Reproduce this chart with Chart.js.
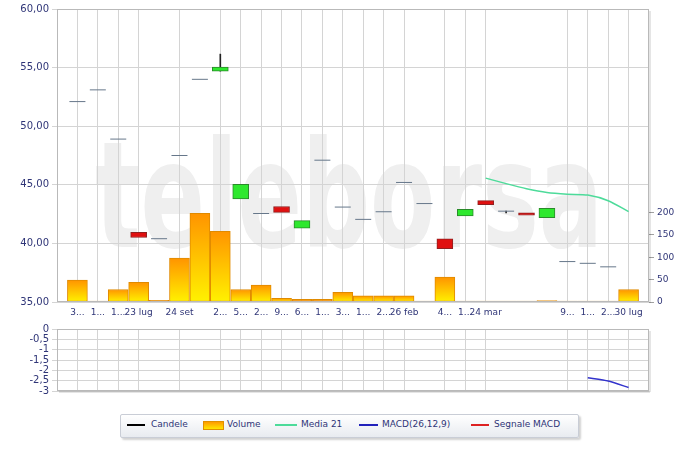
<!DOCTYPE html>
<html><head><meta charset="utf-8">
<script src="https://cdn.jsdelivr.net/npm/chart.js@4/dist/chart.umd.min.js"></script>
<style>
html,body{margin:0;padding:0;background:#fff;}
#wrap{position:relative;width:700px;height:451px;overflow:hidden;font-family:"DejaVu Sans",Verdana,sans-serif;}
#wm{position:absolute;left:0;top:0;}
#b1{position:absolute;left:0;top:0;width:700px;height:325px;}
#b2{position:absolute;left:0;top:320px;width:700px;height:80px;}
#legend{position:absolute;left:120px;top:414px;width:457px;height:22px;border:1px solid #c9cdd6;background:linear-gradient(#ffffff,#e8ebf0);box-shadow:2px 2px 2px rgba(0,0,0,0.18);border-radius:2px;font-size:9px;color:#2f3577;}
.li{position:absolute;top:4px;white-space:nowrap;line-height:11px}
.sw{position:absolute;height:2px;top:9px}
</style></head>
<body>
<div id="wrap">
  <svg id="wm" width="700" height="451"><g transform="translate(95,247) scale(1,1.6)"><text x="0" y="0" font-family="DejaVu Sans" font-weight="bold" font-size="92" fill="#efefef" textLength="508" lengthAdjust="spacingAndGlyphs">teleborsa</text></g></svg>
  <div id="b1"><canvas id="c1"></canvas></div>
  <div id="b2"><canvas id="c2"></canvas></div>
  <div id="legend">
    <div class="sw" style="left:6px;width:18px;background:#000"></div><div class="li" style="left:30px">Candele</div>
    <div style="position:absolute;left:82px;top:6px;width:19px;height:7px;border:1px solid #e09000;background:linear-gradient(#ff9a00,#ffe600)"></div><div class="li" style="left:106px">Volume</div>
    <div class="sw" style="left:154px;width:22px;background:#4ddb9a"></div><div class="li" style="left:180px">Media 21</div>
    <div class="sw" style="left:238px;width:19px;background:#2222bb"></div><div class="li" style="left:261px">MACD(26,12,9)</div>
    <div class="sw" style="left:350px;width:18px;background:#dd2222"></div><div class="li" style="left:373px">Segnale MACD</div>
  </div>
</div>
<script>
const xLabels = ['3...','1...','1...','23 lug','','24 set','','2...','5...','2...','9...','6...','1...','3...','1...','2...','26 feb','','4...','1...','24 mar','','','','9...','1...','2...','30 lug'];
const openP  = [52.1,53.1,48.9,40.95,40.4,47.5,54.0,54.7,43.8,42.55,43.15,41.3,47.1,43.1,42.05,42.7,45.2,43.4,40.4,42.35,43.65,42.75,42.6,42.2,38.45,38.3,38.0,null];
const closeP = [52.1,53.1,48.9,40.5,40.4,47.5,54.0,55.05,45.05,42.55,42.65,41.95,47.1,43.1,42.05,42.7,45.2,43.4,39.55,42.9,43.3,42.75,42.4,43.0,38.45,38.3,38.0,null];
const highP  = [52.1,53.1,48.9,40.95,40.4,47.5,54.0,56.15,45.05,42.55,43.15,41.95,47.1,43.1,42.05,42.7,45.2,43.4,40.4,42.9,43.65,42.75,42.6,43.0,38.45,38.3,38.0,null];
const lowP   = [52.1,53.1,48.9,40.5,40.4,47.5,54.0,54.7,43.8,42.55,42.65,41.3,47.1,43.1,42.05,42.7,45.2,43.4,39.55,42.35,43.3,42.6,42.4,42.2,38.45,38.3,38.0,null];
const volume = [49,2,28,44,3.5,98,198,158,28,38,8,6,6,21.5,14,14,14,2,55.5,2,2,2,2,3,2,2,2,28];
const media21 = [null,null,null,null,null,null,null,null,null,null,null,null,null,null,null,null,null,null,null,null,45.57,45.1,44.67,44.35,44.2,44.12,43.64,42.71];
const macdLine = [null,null,null,null,null,null,null,null,null,null,null,null,null,null,null,null,null,null,null,null,null,null,null,null,null,-2.36,-2.52,-2.83];
const signalLine = [null,null,null,null,null,null,null,null,null,null,null,null,null,null,null,null,null,null,null,null,null,null,null,null,null,null,null,null];
const priceTicks = [35,40,45,50,55,60];
const volumeTicks = [0,50,100,150,200];
const macdTicks = [-3,-2.5,-2,-1.5,-1,-0.5,0];

const TXT = '#2f3577';
const GRID = '#d4d4d4';
const FONT = '"DejaVu Sans", Verdana, sans-serif';
const tickPos = xLabels.map((l,i)=>l!==''?i+1:null).filter(v=>v!==null);

const up=[],down=[],dash=[],wick=[];
openP.forEach((o,i)=>{
  const c=closeP[i]; if(o===null) return;
  const x=i+1;
  if(o===c) dash.push({x,y:o}); else if(c>o) up.push({x,y:[o,c]}); else down.push({x,y:[c,o]});
  if(highP[i]>Math.max(o,c)||lowP[i]<Math.min(o,c)) wick.push({x,y:[lowP[i],highP[i]]});
});
const volData = volume.map((v,i)=>({x:i+1,y:v}));
const medData = media21.map((v,i)=>({x:i+1,y:v}));
const macdData = macdLine.map((v,i)=>({x:i+1,y:v}));
const sigData = signalLine.map((v,i)=>({x:i+1,y:v}));

function volGrad(ctx){
  const ch=ctx.chart; if(!ch.chartArea) return '#ffb000';
  const s=ch.scales.yv; const v=ctx.raw&&ctx.raw.y!==undefined?ctx.raw.y:0;
  const t=s.getPixelForValue(v), b=s.getPixelForValue(0);
  if(b-t<3) return '#f29000';
  const g=ch.ctx.createLinearGradient(0,t,0,b);
  g.addColorStop(0,'#ff9400'); g.addColorStop(1,'#fff200');
  return g;
}

const frame = {id:'frame', afterDraw(chart,args,opts){
  const {ctx,chartArea:a}=chart; ctx.save();
  const l=Math.round(a.left)+0.5,t=Math.round(a.top)+0.5,r=Math.round(a.right)-0.5,b=Math.round(a.bottom)-0.5;
  ctx.fillStyle='rgba(0,0,0,0.10)';
  ctx.fillRect(r+0.5,t+1.5,2,b-t);
  if(opts.bottom) ctx.fillRect(l+1.5,b+0.5,r-l,2);
  ctx.strokeStyle='#b9b9b9'; ctx.lineWidth=1;
  ctx.strokeRect(l,t,r-l,b-t);
  ctx.restore();
}};

Chart.defaults.font.family = FONT;
Chart.defaults.color = TXT;

const xAxis = (showLabels)=>({type:'linear',min:0,max:29,offset:false,
  afterBuildTicks:s=>{s.ticks=tickPos.map(v=>({value:v}));},
  ticks:{display:showLabels,autoSkip:false,maxRotation:0,minRotation:0,padding:5,font:{size:9},color:TXT,callback:v=>xLabels[v-1]},
  grid:{color:GRID,drawTicks:false,offset:false},border:{display:false},
  afterFit:s=>{s.height=showLabels?23:0;}});

new Chart(document.getElementById('c1'),{
  type:'bar',
  data:{datasets:[
    {type:'bar',label:'Volume',data:volData,yAxisID:'yv',grouped:false,barThickness:20,backgroundColor:volGrad,borderColor:'#e08a00',borderWidth:1,borderSkipped:false,order:6},
    {type:'bar',label:'wick',data:wick,yAxisID:'y',grouped:false,barThickness:1,backgroundColor:'#222',borderWidth:0,order:5},
    {type:'bar',label:'up',data:up,yAxisID:'y',grouped:false,barThickness:16,backgroundColor:'#2ee82e',borderColor:'#2a8a2a',borderWidth:1,borderSkipped:false,order:4},
    {type:'bar',label:'down',data:down,yAxisID:'y',grouped:false,barThickness:16,backgroundColor:'#e01010',borderColor:'#902020',borderWidth:1,borderSkipped:false,order:4},
    {type:'line',label:'Candele',data:dash,yAxisID:'y',showLine:false,pointStyle:'line',pointRadius:8,pointHoverRadius:8,pointBorderWidth:1,pointBorderColor:'#66778a',borderColor:'#66778a',order:3},
    {type:'line',label:'Media 21',data:medData,yAxisID:'y',borderColor:'#4ddb9a',borderWidth:1.5,pointRadius:0,tension:0.25,fill:false,order:2}
  ]},
  options:{
    responsive:true,maintainAspectRatio:false,animation:false,
    layout:{padding:{top:7,left:0,right:0,bottom:0}},
    plugins:{legend:{display:false},tooltip:{enabled:false},frame:{bottom:false}},
    scales:{
      x:xAxis(true),
      y:{position:'left',min:35,max:60,
        afterBuildTicks:s=>{s.ticks=priceTicks.map(v=>({value:v}));},
        ticks:{autoSkip:false,font:{size:10},color:TXT,padding:3,callback:v=>v.toFixed(2).replace('.',',')},
        grid:{color:GRID,tickLength:5},border:{display:false},
        afterFit:s=>{s.width=57;}},
      yv:{position:'right',min:0,max:655,
        afterBuildTicks:s=>{s.ticks=volumeTicks.map(v=>({value:v}));},
        ticks:{autoSkip:false,font:{size:9},color:TXT,padding:3},
        grid:{drawOnChartArea:false,tickLength:5,color:'#a0a0a0'},border:{display:false},
        afterFit:s=>{s.width=51;}}
    }
  },
  plugins:[frame]
});

new Chart(document.getElementById('c2'),{
  type:'line',
  data:{datasets:[
    {label:'MACD(26,12,9)',data:macdData,borderColor:'#3333cc',borderWidth:1.5,pointRadius:0,tension:0.2},
    {label:'Segnale MACD',data:sigData,borderColor:'#dd2222',borderWidth:1.5,pointRadius:0}
  ]},
  options:{
    responsive:true,maintainAspectRatio:false,animation:false,
    layout:{padding:{top:9,left:0,right:51,bottom:9}},
    plugins:{legend:{display:false},tooltip:{enabled:false},frame:{bottom:true}},
    scales:{
      x:xAxis(false),
      y:{position:'left',min:-3,max:0,
        afterBuildTicks:s=>{s.ticks=macdTicks.map(v=>({value:v}));},
        ticks:{autoSkip:false,font:{size:10},color:TXT,padding:3,callback:v=>String(v).replace('.',',')},
        grid:{color:GRID,tickLength:5},border:{display:false},
        afterFit:s=>{s.width=57;}}
    }
  },
  plugins:[frame]
});
</script>
</body></html>
